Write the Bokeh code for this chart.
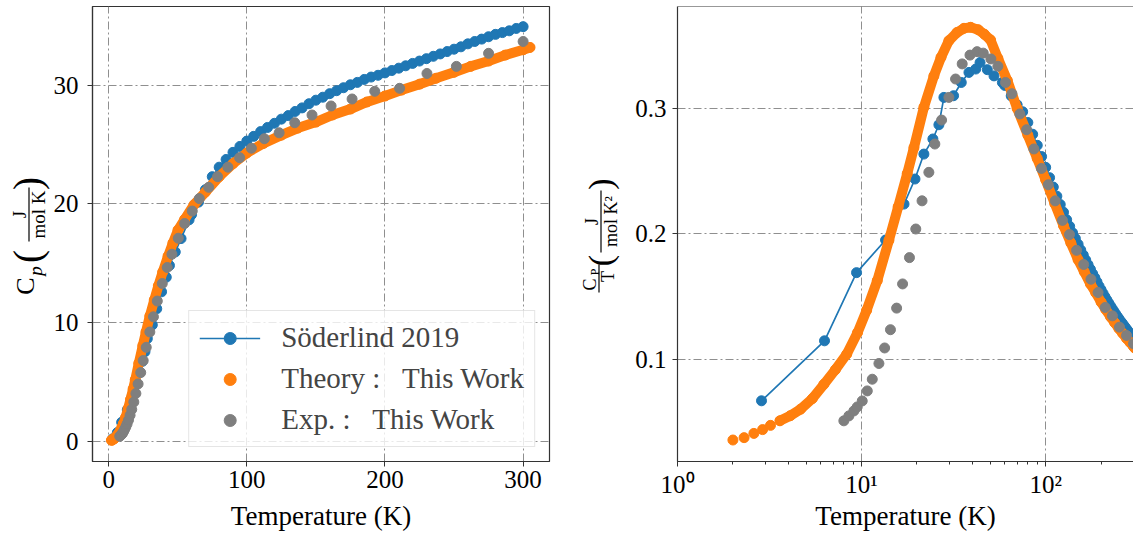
import numpy as np
from bokeh.plotting import figure
from bokeh.models import (Range1d, FixedTicker, Span, Legend, LegendItem,
                          CustomJSTickFormatter, ColumnDataSource)
from bokeh.layouts import row, column
from bokeh.core.properties import value
from bokeh.embed import file_html
from bokeh.resources import INLINE

# ---------------- data ----------------
# Söderlind 2019
sod_T = [2.86, 6.29, 9.39, 13.5, 17.0, 19.5, 21.8, 24.4, 26.3, 28.0, 31.6, 34.8, 38.3,
         41.7, 44.0, 48.2, 52.4, 58.2,
         60, 65, 70, 75, 80, 85, 90, 95, 100, 105, 110, 115, 120, 125, 130, 135, 140,
         145, 150, 155, 160, 165, 170, 175, 180, 185, 190, 195, 200, 205, 210, 215, 220,
         225, 230, 235, 240, 245, 250, 255, 260, 265, 270, 275, 280, 285, 290, 295, 300]
sod_Cp = [0.191, 0.721, 1.587, 2.633, 3.803, 4.752, 5.746, 6.725, 7.548, 8.646, 9.80,
          11.16, 12.59, 13.82, 14.81, 15.95, 17.08, 18.66,
          19.1, 20.15, 21.2, 22.3, 23.1, 23.75, 24.35, 24.85, 25.3, 25.7, 26.1, 26.45,
          26.8, 27.15, 27.45, 27.8, 28.1, 28.45, 28.75, 29.0, 29.3, 29.55, 29.8, 30.05,
          30.25, 30.5, 30.7, 30.85, 31.05, 31.25, 31.45, 31.65, 31.85, 32.05, 32.25, 32.45,
          32.65, 32.85, 33.05, 33.25, 33.5, 33.7, 33.9, 34.1, 34.3, 34.45, 34.6, 34.8, 34.95]

# Theory : This Work
th_T = [2.0, 2.3, 2.6, 2.9, 3.2, 3.6, 4.1, 4.66, 5.4, 6.24, 7.2, 8.3, 9.5, 10.65, 12.17,
        14.07, 15.8, 17.7, 19.24, 21.8, 24.7, 27.0, 29.8, 33.0, 36.0, 39.1, 43.0, 46.5,
        50.2, 55.0, 61.9, 70.0, 80.0, 90.0, 100.0, 112.0, 125.0, 137.0, 150.0, 162.0,
        175.0, 187.0, 200.0, 212.0, 225.0, 237.0, 250.0, 262.0, 275.0, 287.0, 300.0, 305.0]
th_Cp = [0.071, 0.086, 0.106, 0.127, 0.151, 0.183, 0.225, 0.280, 0.370, 0.499, 0.659,
         0.863, 1.15, 1.48, 1.98, 2.74, 3.5, 4.39, 5.17, 6.56, 8.05, 9.2, 10.55, 11.9,
         13.1, 14.26, 15.6, 16.7, 17.8, 18.7, 19.95, 21.0, 22.3, 23.4, 24.3, 25.1, 25.8,
         26.4, 26.9, 27.5, 28.0, 28.6, 29.1, 29.6, 30.1, 30.6, 31.1, 31.6, 32.05, 32.55,
         33.0, 33.2]

# Exp. : This Work
ex_T = [8.01, 8.53, 9.08, 9.47, 10.08, 10.74, 11.43, 12.42, 13.34, 14.35, 15.5, 16.7,
        18.2, 19.7, 21.3, 23.2, 25.0, 27.2, 29.8, 32.4, 35.2, 38.8, 42.4, 45.8, 50.4,
        55.0, 60.5, 65.6, 72.4, 78.8, 86.3, 94.8, 103.3, 112.7, 123.4, 134.7, 147.2,
        161.0, 176.2, 192.6, 210.6, 230.4, 251.7, 275.0, 300.0]
ex_Cp = [0.407, 0.467, 0.533, 0.586, 0.672, 0.802, 0.960, 1.199, 1.453, 1.772, 2.181,
         2.672, 3.294, 4.015, 4.820, 5.777, 6.790, 7.907, 9.202, 10.48, 11.81, 13.29,
         14.64, 15.76, 17.11, 18.35, 19.4, 20.45, 21.4, 22.3, 23.1, 23.9, 24.7, 25.5,
         26.0, 26.85, 27.5, 28.26, 28.85, 29.5, 29.75, 31.0, 31.6, 32.7, 33.7]

left_xticks = [0, 100, 200, 300]
left_yticks = [0, 10, 20, 30]
right_yticks = [0.1, 0.2, 0.3]
labels = ["Söderlind 2019", "Theory :\u00a0\u00a0\u00a0This Work", "Exp. :\u00a0\u00a0\u00a0This Work"]
xlabel = "Temperature (K)"

# ---------------- style / geometry ----------------
FONT = "Liberation Serif"
BLUE, ORANGE, GRAY = "#1f77b4", "#ff7f0e", "#7f7f7f"
GRIDC = "#8f8f8f"
DASH = "8 3 2 3"
SPINE = "#333333"
TOTAL_W, TOTAL_H = 1133, 533
PH = 500                      # height of plot row
FT, FH = 6, 455               # frame top / height
FB = PH - FT - FH             # frame bottom border
LAB_L_W = 50
PL_W, PL_BL, PL_BR = 516, 42, 17
LAB_R_W = 60
PR_W, PR_BL = 507, 51

sod = ColumnDataSource(dict(T=sod_T, Cp=sod_Cp, v=list(np.array(sod_Cp) / np.array(sod_T))))
th = ColumnDataSource(dict(T=th_T, Cp=th_Cp, v=list(np.array(th_Cp) / np.array(th_T))))
th_line_idx = [i for i, t in enumerate(th_T) if t >= 3.6]
th_l = ColumnDataSource(dict(T=[th_T[i] for i in th_line_idx],
                             Cp=[th_Cp[i] for i in th_line_idx],
                             v=[th_Cp[i] / th_T[i] for i in th_line_idx]))
ex = ColumnDataSource(dict(T=ex_T, Cp=ex_Cp, v=list(np.array(ex_Cp) / np.array(ex_T))))


def style_axes(p, ystandoff):
    for ax in (p.xaxis, p.yaxis):
        ax.major_label_text_font = FONT
        ax.major_label_text_font_size = "25px"
        ax.major_label_text_color = "black"
        ax.axis_line_color = SPINE
        ax.axis_line_width = 1.2
        ax.major_tick_line_color = SPINE
        ax.major_tick_out = 5
        ax.major_tick_in = 0
        ax.minor_tick_out = 3
        ax.minor_tick_in = 0
        ax.minor_tick_line_color = SPINE
    p.xaxis.major_label_standoff = 4
    p.yaxis.major_label_standoff = ystandoff
    for g in (p.xgrid, p.ygrid):
        g.grid_line_color = GRIDC
        g.grid_line_dash = DASH
        g.grid_line_width = 1


def text_canvas(width, x0):
    # frame placed exactly like the plot frames; data y == (PH - page y)
    c = figure(width=width, height=PH, output_backend="svg", toolbar_location=None,
               x_range=Range1d(x0, x0 + width), y_range=Range1d(FB, PH - FT),
               x_axis_location=None, y_axis_location=None,
               min_border_left=0, min_border_right=0,
               min_border_top=FT, min_border_bottom=FB)
    c.outline_line_color = None
    c.grid.grid_line_color = None
    c.background_fill_color = "white"
    c.border_fill_color = "white"
    return c


def rtext(c, text, px, py, size, style="normal"):
    # rotated (reads upward) text centred at page point (px, py)
    c.text(x=[px], y=[PH - py], text=[text], angle=np.pi / 2, text_align="center",
           text_baseline="middle", text_font=value(FONT),
           text_font_size=value(f"{size}px"), text_font_style=style, text_color="black")


def rbar(c, px, py0, py1):
    c.segment(x0=[px], y0=[PH - py0], x1=[px], y1=[PH - py1], line_color="black",
              line_width=1.2)


# ---------------- left panel ----------------
xr0, xr1 = -11.7, 319.1
yr0, yr1 = -1.72, 36.65
pL = figure(width=PL_W, height=PH, output_backend="svg", toolbar_location=None,
            x_range=Range1d(xr0, xr1), y_range=Range1d(yr0, yr1),
            min_border_left=PL_BL, min_border_right=PL_BR,
            min_border_top=FT, min_border_bottom=FB)
pL.background_fill_color = "white"
pL.border_fill_color = "white"
pL.outline_line_color = SPINE
pL.outline_line_width = 1.2
style_axes(pL, 9)
pL.xaxis.ticker = FixedTicker(ticks=left_xticks)
pL.yaxis.ticker = FixedTicker(ticks=left_yticks)
pL.xaxis.minor_tick_line_color = None
pL.yaxis.minor_tick_line_color = None

rb_l = pL.line("T", "Cp", source=sod, color=BLUE, line_width=1.7)
rb_s = pL.scatter("T", "Cp", source=sod, size=10, color=BLUE)
pL.line("T", "Cp", source=th_l, color=ORANGE, line_width=10, line_cap="round", line_join="round")
ro_s = pL.scatter("T", "Cp", source=th, size=10, color=ORANGE)
rg_s = pL.scatter("T", "Cp", source=ex, size=10, color=GRAY)

legend = Legend(items=[LegendItem(label=labels[0], renderers=[rb_l, rb_s]),
                       LegendItem(label=labels[1], renderers=[ro_s]),
                       LegendItem(label=labels[2], renderers=[rg_s])],
                location="bottom_right")
legend.label_text_font = FONT
legend.label_text_font_size = "29px"
legend.glyph_width = 61
legend.glyph_height = 30
legend.label_standoff = 21
legend.padding = 10
legend.spacing = 8
legend.margin = 14
legend.border_line_color = "#cccccc"
legend.border_line_width = 1
legend.background_fill_alpha = 0.8
pL.add_layout(legend)

# ---------------- right panel ----------------
rx0, rx1 = 1.0, 300.0
ry0, ry1 = 0.01836, 0.3813
pR = figure(width=PR_W, height=PH, output_backend="svg", toolbar_location=None,
            x_axis_type="log", x_range=Range1d(rx0, rx1), y_range=Range1d(ry0, ry1),
            min_border_left=PR_BL, min_border_right=0,
            min_border_top=FT, min_border_bottom=FB)
pR.background_fill_color = "white"
pR.border_fill_color = "white"
pR.outline_line_color = None
style_axes(pR, 6)
pR.yaxis.ticker = FixedTicker(ticks=right_yticks)
pR.xaxis.formatter = CustomJSTickFormatter(code="""
const sup = {'0':'\u2070','1':'\u00b9','2':'\u00b2','3':'\u00b3','4':'\u2074','5':'\u2075',
             '6':'\u2076','7':'\u2077','8':'\u2078','9':'\u2079','-':'\u207b'};
const e = Math.round(Math.log10(tick));
return '10' + String(e).split('').map(c => sup[c]).join('');
""")
pR.add_layout(Span(location=ry1, dimension="width", line_color=SPINE, line_width=1.2))

pR.line("T", "v", source=sod, color=BLUE, line_width=1.7)
pR.scatter("T", "v", source=sod, size=10, color=BLUE)
pR.line("T", "v", source=th_l, color=ORANGE, line_width=10, line_cap="round", line_join="round")
pR.scatter("T", "v", source=th, size=10, color=ORANGE)
pR.scatter("T", "v", source=ex, size=10, color=GRAY)

# ---------------- y labels (built from text pieces) ----------------
labL = text_canvas(LAB_L_W, 0)
rtext(labL, "C", 24.5, 285.5, 26)
rtext(labL, "p", 35.3, 270.5, 19, "italic")
rtext(labL, "(", 27.1, 256, 39)
rtext(labL, "J", 19, 214, 19)
rbar(labL, 28.5, 187, 241)
rtext(labL, "mol K", 38.3, 214, 19)
rtext(labL, ")", 27.1, 183, 39)

x_off = LAB_L_W + PL_W
labR = text_canvas(LAB_R_W, x_off)
rtext(labR, "C", 589, 284, 18)
rtext(labR, "P", 594, 271.5, 12)
rbar(labR, 598.5, 264, 292)
rtext(labR, "T", 607.5, 276, 18)
rtext(labR, "(", 600.4, 260, 34)
rtext(labR, "J", 591.5, 221, 18)
rbar(labR, 600.5, 190, 252)
rtext(labR, "mol K\u00b2", 610, 221, 18)
rtext(labR, ")", 600.4, 183.5, 34)

# ---------------- x labels ----------------
XH = TOTAL_H - PH
xl = figure(width=TOTAL_W, height=XH, output_backend="svg", toolbar_location=None,
            x_range=Range1d(0, TOTAL_W), y_range=Range1d(0, XH),
            x_axis_location=None, y_axis_location=None, min_border=0)
xl.outline_line_color = None
xl.grid.grid_line_color = None
xl.background_fill_color = "white"
xl.border_fill_color = "white"
cL = LAB_L_W + PL_BL + (PL_W - PL_BL - PL_BR) / 2
cR = LAB_L_W + PL_W + LAB_R_W + PR_BL + (PR_W - PR_BL) / 2
xl.text(x=[cL, cR], y=[TOTAL_H - 515.5] * 2, text=[xlabel, xlabel], text_align="center",
        text_baseline="middle", text_font=value(FONT), text_font_size=value("27px"),
        text_color="black")

layout = column(row(labL, pL, labR, pR, spacing=0), xl, spacing=0)
open("out.html", "w").write(file_html(layout, INLINE))
